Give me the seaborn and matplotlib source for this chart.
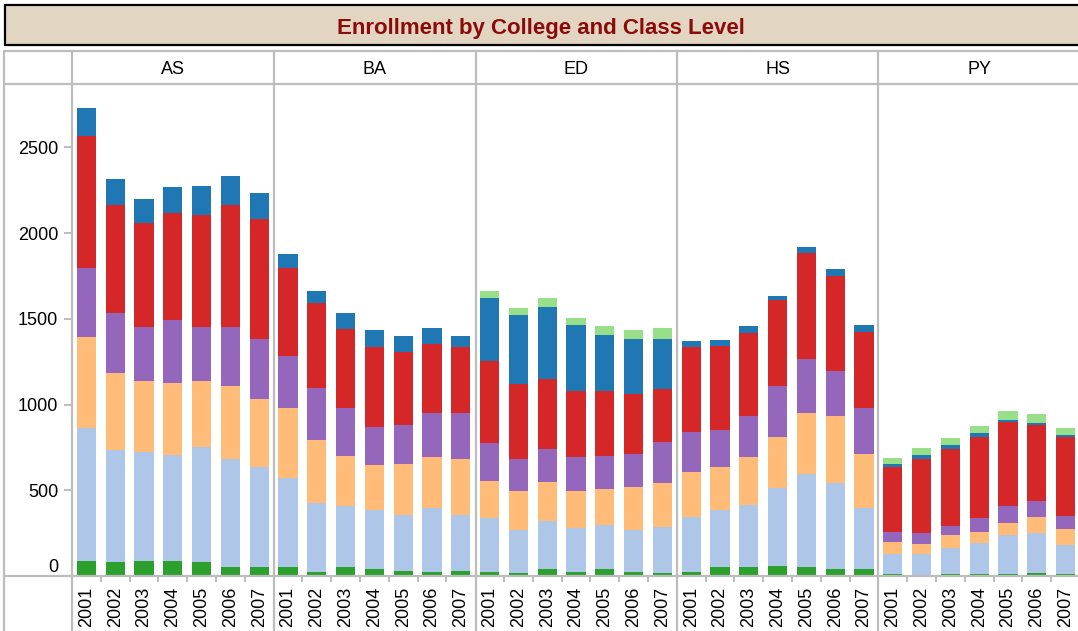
import numpy as np
import pandas as pd
import matplotlib
matplotlib.use("Agg")
import matplotlib.pyplot as plt
import seaborn as sns
from matplotlib.lines import Line2D
from matplotlib.patches import Rectangle

sns.set_theme(style="white")
plt.rcParams["font.family"] = ["Liberation Sans", "DejaVu Sans"]

years = ["2001", "2002", "2003", "2004", "2005", "2006", "2007"]
colleges = ["AS", "BA", "ED", "HS", "PY"]
# class levels, stacked bottom to top
levels = ["L1", "L2", "L3", "L4", "L5", "L6", "L7"]
level_colors = ["#2ca02c", "#aec7e8", "#ffbb78", "#9467bd", "#d62728", "#1f77b4", "#98df8a"]

as_vals = [
    [90, 79, 85, 90, 79, 50, 50],
    [776, 656, 638, 614, 672, 630, 584],
    [527, 448, 413, 421, 385, 427, 397],
    [403, 350, 316, 369, 316, 345, 350],
    [773, 631, 607, 623, 653, 712, 701],
    [162, 152, 140, 152, 170, 170, 152],
    [0, 0, 0, 0, 0, 0, 0],
]
ba_vals = [
    [55, 26, 55, 38, 32, 26, 32],
    [516, 397, 353, 346, 321, 370, 321],
    [407, 368, 290, 261, 298, 296, 327],
    [304, 304, 280, 222, 228, 257, 269],
    [516, 497, 462, 468, 428, 405, 386],
    [80, 70, 93, 99, 92, 92, 64],
    [0, 0, 0, 0, 0, 0, 0],
]
ed_vals = [
    [26, 20, 38, 26, 38, 26, 20],
    [312, 248, 280, 253, 257, 242, 263],
    [214, 226, 228, 215, 210, 249, 257],
    [222, 186, 193, 198, 193, 193, 240],
    [479, 440, 409, 386, 380, 352, 309],
    [368, 402, 420, 385, 327, 320, 293],
    [41, 41, 53, 41, 52, 52, 64],
]
hs_vals = [
    [26, 50, 50, 61, 55, 38, 38],
    [316, 334, 362, 452, 540, 502, 358],
    [263, 250, 280, 296, 354, 392, 314],
    [233, 216, 240, 298, 316, 263, 268],
    [497, 492, 484, 504, 619, 556, 446],
    [35, 34, 41, 22, 35, 39, 39],
    [0, 0, 0, 0, 0, 0, 0],
]
py_vals = [
    [9, 3, 9, 9, 9, 20, 9],
    [117, 123, 157, 181, 228, 228, 169],
    [70, 58, 71, 64, 75, 94, 99],
    [58, 64, 52, 82, 94, 93, 71],
    [380, 432, 450, 473, 491, 444, 461],
    [17, 24, 23, 23, 11, 12, 12],
    [35, 41, 41, 41, 53, 52, 41],
]
college_vals = {"AS": as_vals, "BA": ba_vals, "ED": ed_vals, "HS": hs_vals, "PY": py_vals}
yticks = [0, 500, 1000, 1500, 2000, 2500]

rows = []
for c in colleges:
    v = np.array(college_vals[c])
    cum = np.cumsum(v, axis=0)
    for li, lev in enumerate(levels):
        for yi, yr in enumerate(years):
            rows.append({"College": c, "Level": lev, "Year": yr,
                         "Value": v[li, yi], "Cum": cum[li, yi]})
df = pd.DataFrame(rows)

W, H = 1078, 631
fig = plt.figure(figsize=(W / 100, H / 100), dpi=100)
GRAY = "#bdbdbd"

def fx(px):
    return px / W

def fy(py):
    return 1 - py / H

# title box
fig.add_artist(Rectangle((fx(5), fy(45)), fx(1100), 40 / H, transform=fig.transFigure,
                         facecolor="#e2d6c2", edgecolor="black", lw=1.6, zorder=1))
fig.text(fx(541), fy(28.5), "Enrollment by College and Class Level", ha="center", va="center",
         fontsize=16, fontweight="bold", color="#8b0a0a")

panel_w = 201.6
left0 = 72
top_px, bot_px = 84, 576
ymax = 2870

for i, c in enumerate(colleges):
    lx = left0 + panel_w * i
    ax = fig.add_axes([fx(lx), fy(bot_px), fx(panel_w), (bot_px - top_px) / H])
    sub = df[df["College"] == c]
    for li in range(len(levels) - 1, -1, -1):
        d = sub[sub["Level"] == levels[li]]
        sns.barplot(data=d, x="Year", y="Cum", order=years, color=level_colors[li],
                    saturation=1, width=0.66, errorbar=None, linewidth=0, ax=ax)
    ax.set_xlim(-0.5, 6.5)
    ax.set_ylim(0, ymax)
    ax.set_xlabel("")
    ax.set_ylabel("")
    for s in ax.spines.values():
        s.set_visible(False)
    ax.set_facecolor("none")
    ax.set_xticks(range(len(years)))
    ax.set_xticklabels(years, rotation=90, fontsize=13, color="black")
    ax.set_xticks(np.arange(0.5, 6, 1), minor=True)
    ax.tick_params(axis="x", which="major", length=0, pad=8)
    ax.tick_params(axis="x", which="minor", length=4.5, width=1.4, color=GRAY, direction="out", bottom=True)
    if i == 0:
        ax.set_yticks(yticks)
        ax.set_yticklabels([str(t) for t in yticks], fontsize=13, color="black")
        ax.tick_params(axis="y", length=6, width=1.4, color=GRAY, pad=4, left=True)
        ax.get_yticklabels()[0].set_va("bottom")
    else:
        ax.set_yticks([])
    ax.grid(False)
    fig.text(fx(lx + panel_w / 2), fy(70), c, ha="center", va="center", fontsize=13, color="black")

# table lines
lw = 1.6
for x in [4, 72, 274, 476, 677, 878]:
    fig.add_artist(Line2D([fx(x), fx(x)], [fy(51), fy(H + 5)], transform=fig.transFigure,
                          color=GRAY, lw=lw))
for y in [51, 84, 576]:
    fig.add_artist(Line2D([fx(4), fx(W + 5)], [fy(y), fy(y)], transform=fig.transFigure,
                          color=GRAY, lw=lw))

fig.savefig("out.png", dpi=100)
